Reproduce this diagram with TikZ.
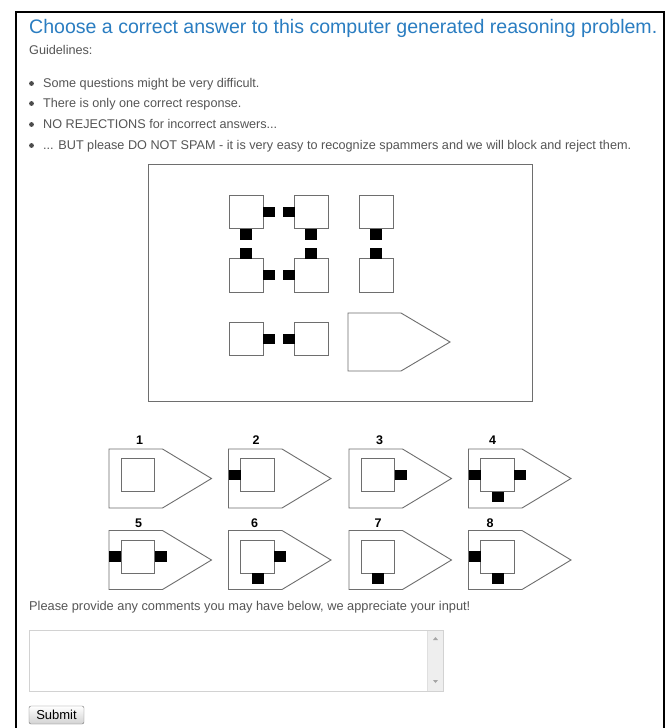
\documentclass[tikz,border=0pt]{standalone}
\usepackage{fontspec}
\setmainfont{Liberation Sans}
\definecolor{titleblue}{RGB}{42,125,193}
\definecolor{txtgray}{RGB}{85,85,85}
\definecolor{shapegray}{RGB}{110,110,110}
\definecolor{areagray}{RGB}{210,210,210}
\definecolor{scrollgray}{RGB}{238,238,238}
\definecolor{btnborder}{RGB}{112,112,112}
% answer shape: #1 = left x, #2 = top y
\newcommand\ansshape[2]{%
  \draw[shp] (#1,#2) -- ({#1+53.5},#2) -- ({#1+102.5},{#2+29.5}) -- ({#1+53.5},{#2+59}) -- (#1,{#2+59}) -- cycle;
  \draw[shp] ({#1+12.3},{#2+9.5}) rectangle ({#1+45.6},{#2+42.6});
}
\newcommand\ansleft[2]{\fill[blk] (#1,{#2+20.8}) rectangle ({#1+12.3},{#2+31.2});}
\newcommand\ansright[2]{\fill[blk] ({#1+45.6},{#2+20.8}) rectangle ({#1+57.6},{#2+31.2});}
\newcommand\ansbottom[2]{\fill[blk] ({#1+23},{#2+42.6}) rectangle ({#1+35},{#2+53.3});}
\begin{document}
\begin{tikzpicture}[x=1pt,y=-1pt,
  shp/.style={draw=shapegray, line width=0.9pt, fill=white},
  blk/.style={fill=black},
  body/.style={anchor=base west, inner sep=0pt, text=txtgray, font=\fontsize{12.65}{15}\selectfont},
  numlbl/.style={inner sep=0pt, font=\bfseries\fontsize{12.5}{15}\selectfont},
  bul/.style={fill=txtgray!90!black}]
\useasboundingbox (0,0) rectangle (671,728);
\fill[white] (0,0) rectangle (671,728);
% outer frame
\draw[line width=2pt] (16,728) -- (16,12) -- (664,12) -- (664,728);
% title and guidelines
\node[anchor=base west, inner sep=0pt, text=titleblue, font=\fontsize{19.55}{23}\selectfont] (title) at (29,33.5) {Choose a correct answer to this computer generated reasoning problem.};
\node[body] (guide) at (29,54) {Guidelines:};
\foreach \yy/\tx [count=\i] in {87.5/{Some questions might be very difficult.},
  107.5/{There is only one correct response.},
  128.5/{NO REJECTIONS for incorrect answers...},
  149.5/{... BUT please DO NOT SPAM - it is very easy to recognize spammers and we will block and reject them.}}{
  \fill[bul] (31.5,\yy-4) circle [radius=2.4pt];
  \node[body] (item\i) at (43,\yy) {\tx};
}
% puzzle frame
\draw[draw=shapegray, line width=0.9pt] (148,164) rectangle (532,401);
% squares
\foreach \xx in {229.5,294.5,359.5}{
  \foreach \yy in {195,258.5}{
    \draw[shp] (\xx,\yy) rectangle ++(33.5,33.5);
  }
}
\draw[shp] (229.5,322) rectangle ++(33.5,33.5);
\draw[shp] (294.5,322) rectangle ++(33.5,33.5);
% horizontal connectors
\foreach \yy in {195,258.5,322}{
  \fill[blk] (263,\yy+11.7) rectangle (275,\yy+21.8);
  \fill[blk] (282.5,\yy+11.7) rectangle (294.5,\yy+21.8);
}
% vertical connectors
\foreach \xx in {229.5,294.5,359.5}{
  \fill[blk] (\xx+10.75,228.5) rectangle (\xx+22.75,239.5);
  \fill[blk] (\xx+10.75,247.5) rectangle (\xx+22.75,258.5);
}
% big pentagon
\draw[shp] (348,313) -- (401,313) -- (450,342) -- (401,371) -- (348,371) -- cycle;
% answers row 1
\ansshape{109}{449}
\ansshape{228.5}{449}\ansleft{228.5}{449}
\ansshape{349}{449}\ansright{349}{449}
\ansshape{468.5}{449}\ansleft{468.5}{449}\ansright{468.5}{449}\ansbottom{468.5}{449}
% answers row 2
\ansshape{109}{530.5}\ansleft{109}{530.5}\ansright{109}{530.5}
\ansshape{228.5}{530.5}\ansright{228.5}{530.5}\ansbottom{228.5}{530.5}
\ansshape{349}{530.5}\ansbottom{349}{530.5}
\ansshape{468.5}{530.5}\ansleft{468.5}{530.5}\ansbottom{468.5}{530.5}
% labels
\node[numlbl] (n1) at (139.5,440.5) {1};
\node[numlbl] (n2) at (256,440.5) {2};
\node[numlbl] (n3) at (379.5,440.5) {3};
\node[numlbl] (n4) at (492.5,440.5) {4};
\node[numlbl] (n5) at (138.5,523.5) {5};
\node[numlbl] (n6) at (254.5,523.5) {6};
\node[numlbl] (n7) at (378,523.5) {7};
\node[numlbl] (n8) at (490,523.5) {8};
% comments
\node[body, font=\fontsize{12.8}{15}\selectfont] (comment) at (29,610) {Please provide any comments you may have below, we appreciate your input!};
\draw[draw=areagray, fill=white] (29,630) rectangle (443.5,691);
\fill[scrollgray] (427.5,630.5) rectangle (443,690.5);
\draw[draw=areagray!70] (427.5,630.5) -- (427.5,690.5);
\fill[gray!70] (433,640) -- (438,640) -- (435.5,637) -- cycle;
\fill[gray!70] (433,680) -- (438,680) -- (435.5,683) -- cycle;
% submit button
\shade[top color=white, bottom color=gray!35, rounded corners=2pt] (29,706) rectangle (84,724);
\draw[draw=btnborder, rounded corners=2pt] (29,706) rectangle (84,724);
\node[inner sep=0pt, font=\fontsize{13}{15}\selectfont] (submit) at (56.5,715) {Submit};
\end{tikzpicture}
\end{document}
